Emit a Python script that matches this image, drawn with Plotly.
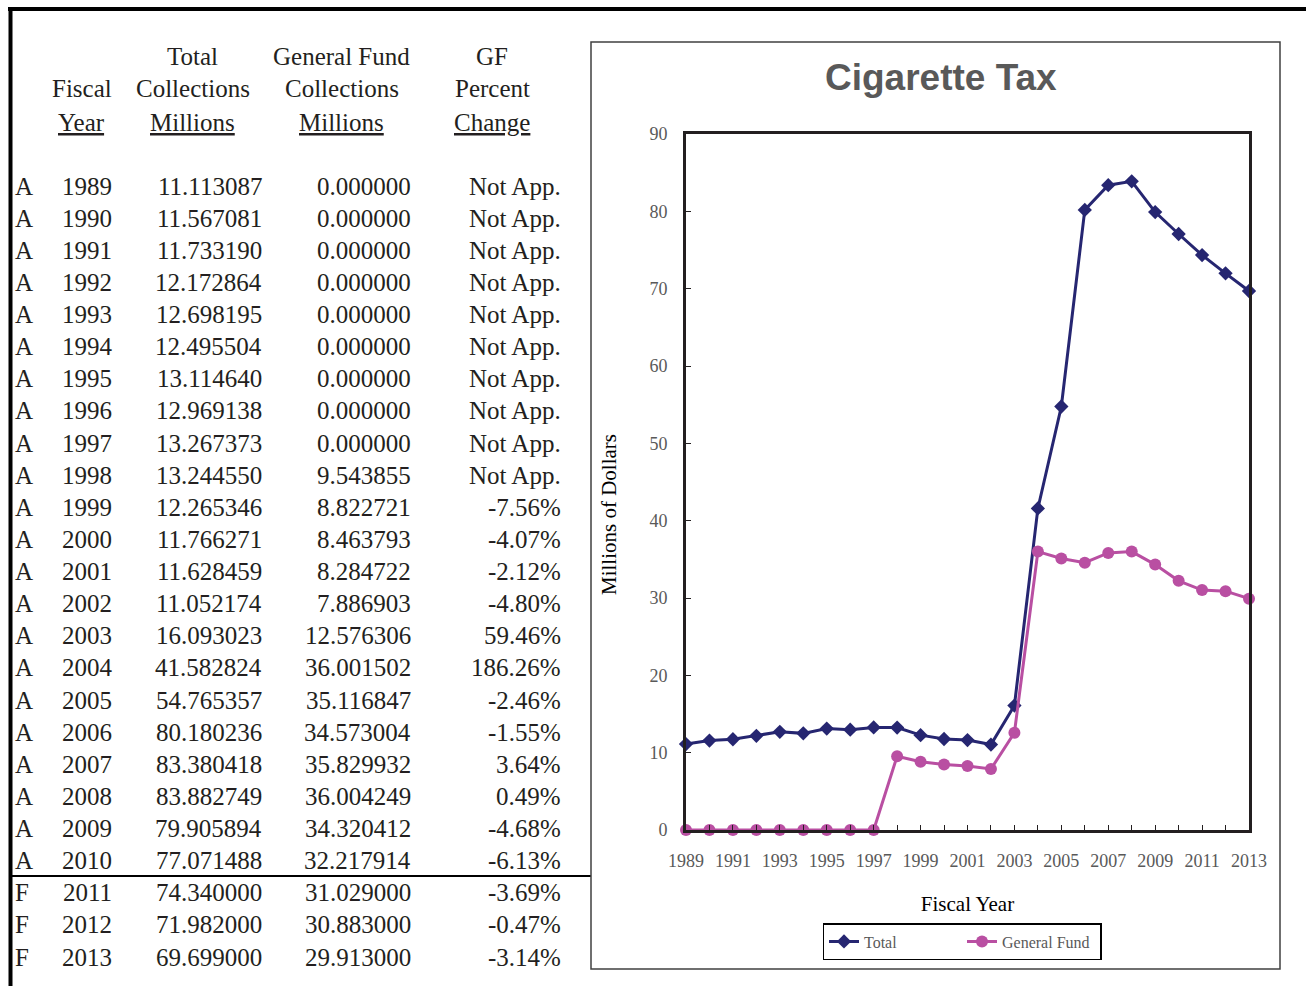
import plotly.graph_objects as go

W, H = 1306, 986

status = ["A"] * 22 + ["F"] * 3
years = list(range(1989, 2014))
total = [11.113087, 11.567081, 11.733190, 12.172864, 12.698195, 12.495504, 13.114640,
         12.969138, 13.267373, 13.244550, 12.265346, 11.766271, 11.628459, 11.052174,
         16.093023, 41.582824, 54.765357, 80.180236, 83.380418, 83.882749, 79.905894,
         77.071488, 74.340000, 71.982000, 69.699000]
general_fund = [0.0, 0.0, 0.0, 0.0, 0.0, 0.0, 0.0, 0.0, 0.0, 9.543855, 8.822721, 8.463793,
                8.284722, 7.886903, 12.576306, 36.001502, 35.116847, 34.573004, 35.829932,
                36.004249, 34.320412, 32.217914, 31.029000, 30.883000, 29.913000]
gf_pct = ["Not App."] * 10 + ["-7.56%", "-4.07%", "-2.12%", "-4.80%", "59.46%", "186.26%",
                              "-2.46%", "-1.55%", "3.64%", "0.49%", "-4.68%", "-6.13%",
                              "-3.69%", "-0.47%", "-3.14%"]
headers = [["", "Fiscal", "Year"], ["Total", "Collections", "Millions"],
           ["General Fund", "Collections", "Millions"], ["GF", "Percent", "Change"]]
x_tick_labels = [str(y) if (y - 1989) % 2 == 0 else "" for y in years]
y_ticks = list(range(0, 91, 10))


def px(x):
    return x / W


def py(y):
    return 1 - y / H


SERIF = "Liberation Serif, Times New Roman, serif"
GRAY = "#595959"
INK = "#231F20"
NAVY = "#262671"
MAGENTA = "#B94FA2"

fig = go.Figure()
fig.add_trace(go.Scatter(x=years, y=total, name="Total", mode="lines+markers",
                         line=dict(color=NAVY, width=3),
                         marker=dict(symbol="diamond", size=11, color=NAVY),
                         cliponaxis=False))
fig.add_trace(go.Scatter(x=years, y=general_fund, name="General Fund", mode="lines+markers",
                         line=dict(color=MAGENTA, width=3),
                         marker=dict(symbol="circle", size=12, color=MAGENTA),
                         cliponaxis=False))

ann = []
# Table headers
hdr_x = [82, 193, 342, 492]
hdr_y = [57, 89, 122]
for cx, lines in zip(hdr_x, headers):
    for j, t in enumerate(lines):
        if not t:
            continue
        txt = "<u>" + t + "</u>" if j == 2 else t
        ann.append(dict(x=px(cx), y=py(hdr_y[j]), xref="paper", yref="paper", text=txt,
                        showarrow=False, xanchor="center", yanchor="middle",
                        font=dict(family=SERIF, size=25, color=INK)))

# Table rows
row0, dy = 186, 32.125
for i in range(len(years)):
    y = py(row0 + i * dy)
    cells = [(status[i], 13, "left"), (str(years[i]), 87, "center"),
             ("%.6f" % total[i], 264, "right"), ("%.6f" % general_fund[i], 413, "right"),
             (gf_pct[i], 563, "right")]
    for t, x, anc in cells:
        ann.append(dict(x=px(x), y=y, xref="paper", yref="paper", text=t, showarrow=False,
                        xanchor=anc, yanchor="middle",
                        font=dict(family=SERIF, size=25, color=INK)))

# Chart title
ann.append(dict(x=px(941), y=py(77), xref="paper", yref="paper", text="<b>Cigarette Tax</b>",
                showarrow=False, xanchor="center", yanchor="middle",
                font=dict(family="Liberation Sans, Arial, sans-serif", size=37, color=GRAY)))
# Y axis title
ann.append(dict(x=px(609), y=py(515), xref="paper", yref="paper", text="Millions of Dollars",
                showarrow=False, xanchor="center", yanchor="middle", textangle=-90,
                font=dict(family=SERIF, size=21, color="black")))

shapes = [
    # outer thick borders
    dict(type="line", xref="paper", yref="paper", x0=px(8), x1=px(1306), y0=py(9), y1=py(9),
         line=dict(color="black", width=4)),
    dict(type="line", xref="paper", yref="paper", x0=px(10.5), x1=px(10.5), y0=py(7), y1=py(986),
         line=dict(color="black", width=4)),
    # table separator
    dict(type="line", xref="paper", yref="paper", x0=px(10), x1=px(591), y0=py(876), y1=py(876),
         line=dict(color="black", width=2)),
    # chart box
    dict(type="rect", xref="paper", yref="paper", x0=px(591), x1=px(1280), y0=py(42), y1=py(969),
         line=dict(color="#404040", width=1.5)),
]

fig.update_layout(
    width=W, height=H, margin=dict(l=0, r=0, t=0, b=0, autoexpand=False),
    paper_bgcolor="white", plot_bgcolor="white",
    annotations=ann, shapes=shapes,
    showlegend=True,
    legend=dict(orientation="h", x=px(962), xanchor="center", y=py(923), yanchor="top",
                bordercolor="black", borderwidth=1.5, bgcolor="white",
                font=dict(family=SERIF, size=16, color=GRAY), entrywidth=93),
    xaxis=dict(domain=[px(686), px(1249)], range=[1989, 2013], tickvals=years,
               ticktext=x_tick_labels, showgrid=False, zeroline=False,
               showline=True, linecolor=INK, linewidth=3, mirror=True,
               ticks="inside", ticklen=5, tickcolor=INK, tickwidth=1,
               ticklabelstandoff=12,
               tickfont=dict(family=SERIF, size=18, color=GRAY),
               title=dict(text="Fiscal Year", standoff=27,
                          font=dict(family=SERIF, size=21, color="black"))),
    yaxis=dict(domain=[py(830), py(134)], range=[0, 90], tickvals=y_ticks,
               showgrid=False, zeroline=False,
               showline=True, linecolor=INK, linewidth=3, mirror=True,
               ticks="inside", ticklen=5, tickcolor=INK, tickwidth=1,
               ticklabelstandoff=12,
               tickfont=dict(family=SERIF, size=18, color=GRAY)),
)

fig.write_html("out.html")
